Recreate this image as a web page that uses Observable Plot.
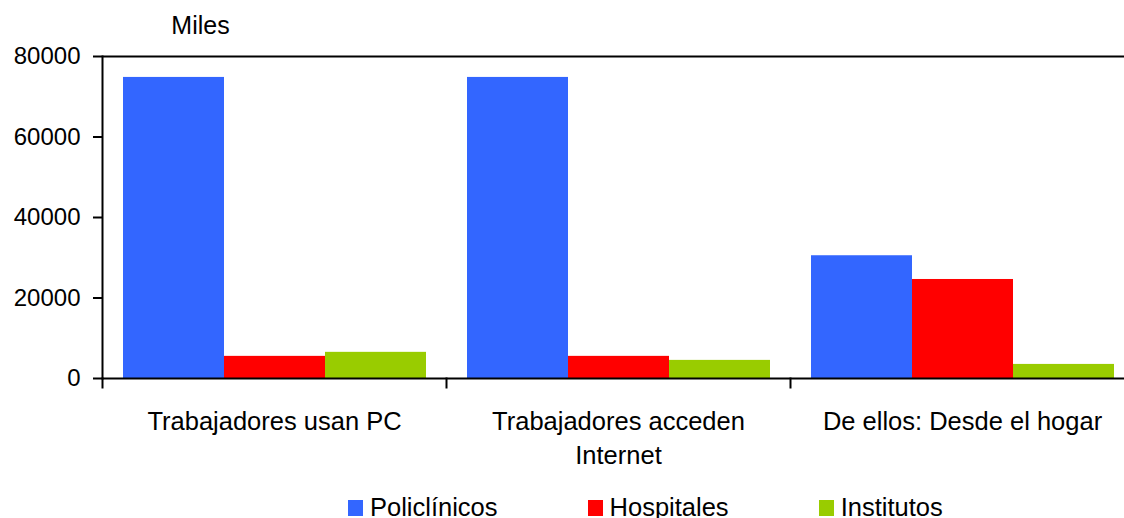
<!DOCTYPE html>
<html>
<head>
<meta charset="utf-8">
<script src="https://cdn.jsdelivr.net/npm/d3@7"></script>
<script src="https://cdn.jsdelivr.net/npm/@observablehq/plot@0.6"></script>
<style>
  html, body { margin: 0; padding: 0; background: #fff; overflow: hidden; width: 1124px; height: 518px; }
  body { font-family: "Liberation Sans", Arial, sans-serif; position: relative; }
  #chart { width: 1124px; height: 490px; overflow: hidden; position: relative; }
  #legend { position: absolute; top: 493px; left: 348px; height: 28px; line-height: 28px; display: flex; gap: 90px; font-size: 25.5px; color: #000; white-space: nowrap; }
  #legend .item { display: flex; align-items: center; }
  #legend .sw { width: 15px; height: 16px; margin-right: 7px; margin-top: 2px; }
</style>
</head>
<body>
<div id="chart"></div>
<div id="legend"></div>
<script>
const categories = ["Trabajadores usan PC", "Trabajadores acceden\nInternet", "De ellos: Desde el hogar"];
const series = ["Policlínicos", "Hospitales", "Institutos"];
const colors = ["#3366FF", "#FF0000", "#99CC00"];
const policlinicos = [74800, 74800, 30500];
const hospitales = [5500, 5500, 24600];
const institutos = [6500, 4500, 3500];
const yTicks = [0, 20000, 40000, 60000, 80000];
const unitLabel = "Miles";

const seriesValues = [policlinicos, hospitales, institutos];
const data = [];
categories.forEach((c, i) => {
  series.forEach((s, j) => data.push({cat: c, series: s, value: seriesValues[j][i]}));
});

const font = "Liberation Sans, Arial, sans-serif";

const chart = Plot.plot({
  width: 1124,
  height: 490,
  marginTop: 56,
  marginLeft: 102,
  marginRight: -10,
  marginBottom: 112,
  style: {fontFamily: font, fontSize: "25px", color: "#000", background: "#fff", overflow: "hidden"},
  fx: {domain: categories, padding: 0, label: null, axis: null},
  x: {domain: series, paddingInner: 0, paddingOuter: 0.2, axis: null},
  y: {domain: [0, 80000], axis: null},
  color: {domain: series, range: colors},
  marks: [
    Plot.barY(data, {fx: "cat", x: "series", y: "value", fill: "series"}),
    Plot.ruleY([80000], {stroke: "#000", strokeWidth: 2}),
    Plot.ruleY([0], {stroke: "#000", strokeWidth: 2}),
    Plot.frame({anchor: "left", facetAnchor: "left", stroke: "#000", strokeWidth: 2}),
    Plot.frame({anchor: "left", insetTop: 322, insetBottom: -9, stroke: "#000", strokeWidth: 2}),
    Plot.axisY({ticks: yTicks, tickSize: 9, tickPadding: 13, fontSize: 24, tickFormat: d3.format("d"), label: null, stroke: "#000", strokeWidth: 2}),
    Plot.axisFx({anchor: "bottom", tickSize: 0, tickPadding: 27, fontSize: 25.5, lineHeight: 1.34, label: null}),
    Plot.text([unitLabel], {frameAnchor: "top-left", facetAnchor: "left", dx: 98, dy: -31, fontSize: 25, textAnchor: "middle", lineAnchor: "middle", fill: "#000"})
  ]
});
chart.style.display = "block";
document.getElementById("chart").appendChild(chart);

const legend = document.getElementById("legend");
series.forEach((s, j) => {
  const item = document.createElement("div");
  item.className = "item";
  const sw = document.createElement("span");
  sw.className = "sw";
  sw.style.background = colors[j];
  const t = document.createElement("span");
  t.textContent = s;
  item.appendChild(sw);
  item.appendChild(t);
  legend.appendChild(item);
});
</script>
</body>
</html>
